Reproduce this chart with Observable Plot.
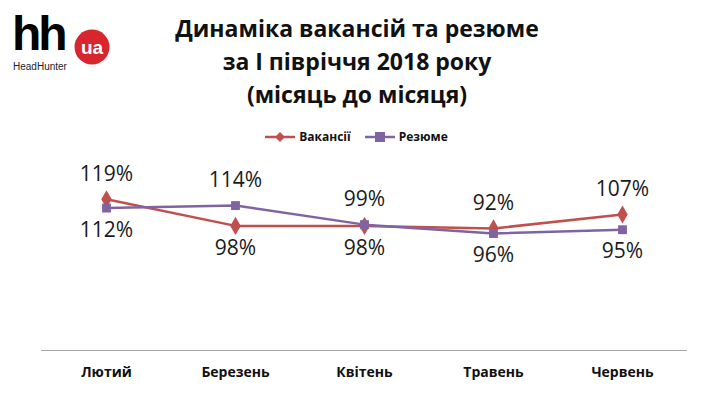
<!DOCTYPE html>
<html>
<head>
<meta charset="utf-8">
<script src="https://cdn.jsdelivr.net/npm/d3@7"></script>
<script src="https://cdn.jsdelivr.net/npm/@observablehq/plot@0.6"></script>
<style>
  html, body { margin: 0; padding: 0; background: #fff; }
  #wrap { position: relative; width: 713px; height: 398px; overflow: hidden; font-family: "Open Sans", sans-serif; }
  #title { position: absolute; left: 157px; width: 400px; top: 12px; text-align: center; font-weight: 700; font-size: 23px; line-height: 33px; color: #111; }
  #logo { position: absolute; left: 12px; top: 6px; width: 120px; height: 70px; }
  #legend { position: absolute; top: 128px; left: 0; width: 713px; text-align: center; font-weight: 700; font-size: 12px; color: #111; }
  #legend span.item { display: inline-flex; align-items: center; margin: 0 7px; }
  #legend svg { margin-right: 4px; }
  #chart { position: absolute; left: 0; top: 151px; }
</style>
</head>
<body>
<div id="wrap">
  <div id="logo">
    <svg width="120" height="70">
      <text x="0" y="44" font-family="Liberation Sans, Arial, sans-serif" font-weight="700" font-size="48" letter-spacing="-3" fill="#000">hh</text>
      <circle cx="80" cy="41" r="17.5" fill="#d7262d"></circle>
      <text x="80" y="48" text-anchor="middle" font-family="Liberation Sans, Arial, sans-serif" font-weight="700" font-size="19" fill="#fff">ua</text>
      <text x="1" y="64" font-family="Liberation Sans, Arial, sans-serif" font-size="10" fill="#222">HeadHunter</text>
    </svg>
  </div>
  <div id="title">Динаміка вакансій та резюме<br>за І півріччя 2018 року<br>(місяць до місяця)</div>
  <div id="legend"></div>
  <div id="chart"></div>
</div>
<script>
const months = ["Лютий", "Березень", "Квітень", "Травень", "Червень"];
const seriesNames = ["Вакансії", "Резюме"];
const vacancies = [119, 98, 98, 96, 107];
const resumes = [112, 114, 99, 92, 95];
const topLabels = ["119%", "114%", "99%", "92%", "107%"];
const bottomLabels = ["112%", "98%", "98%", "96%", "95%"];
const colors = ["#C0504D", "#8064A2"];
const symbols = ["diamond", "square"];

const data = [];
months.forEach((m, i) => {
  data.push({month: m, series: seriesNames[0], value: vacancies[i]});
  data.push({month: m, series: seriesNames[1], value: resumes[i]});
});
const labelData = months.map((m, i) => ({
  month: m,
  hi: Math.max(vacancies[i], resumes[i]),
  lo: Math.min(vacancies[i], resumes[i]),
  top: topLabels[i],
  bottom: bottomLabels[i]
}));

const chart = Plot.plot({
  width: 713,
  height: 239,
  marginLeft: 41,
  marginRight: 26,
  marginTop: 21,
  marginBottom: 40,
  style: {fontFamily: "Open Sans, sans-serif", background: "transparent", overflow: "visible"},
  x: {type: "point", domain: months, padding: 0.5, label: null},
  y: {domain: [0, 140], axis: null},
  color: {domain: seriesNames, range: colors},
  symbol: {domain: seriesNames, range: symbols},
  marks: [
    Plot.ruleY([0], {stroke: "#a6a6a6", strokeWidth: 1}),
    Plot.axisX({tickSize: 0, tickPadding: 17, fontSize: 14, fontWeight: "bold", fill: "#111", label: null}),
    Plot.line(data, {x: "month", y: "value", z: "series", stroke: "series", strokeWidth: 2.5}),
    Plot.dot(data.filter(d => d.series === seriesNames[0]), {x: "month", y: "value", symbol: "series", fill: "series", stroke: "none", r: 5.5}),
    Plot.dot(data.filter(d => d.series === seriesNames[1]), {x: "month", y: "value", symbol: "series", fill: "series", stroke: "none", r: 5}),
    Plot.text(labelData, {x: "month", y: "hi", text: "top", dy: -25, fontSize: 21, fill: "#1a1a1a"}),
    Plot.text(labelData, {x: "month", y: "lo", text: "bottom", dy: 22, fontSize: 21, fill: "#1a1a1a"})
  ]
});
document.getElementById("chart").appendChild(chart);

// legend
const legend = document.getElementById("legend");
seriesNames.forEach((name, i) => {
  const item = document.createElement("span");
  item.className = "item";
  const sym = i === 0
    ? `<polygon points="15,1 20,6 15,11 10,6" fill="${colors[i]}"/>`
    : `<rect x="10" y="1" width="10" height="10" fill="${colors[i]}"/>`;
  item.innerHTML = `<svg width="30" height="12"><line x1="0" x2="30" y1="6" y2="6" stroke="${colors[i]}" stroke-width="2.5"/>${sym}</svg>${name}`;
  legend.appendChild(item);
});
</script>
</body>
</html>
